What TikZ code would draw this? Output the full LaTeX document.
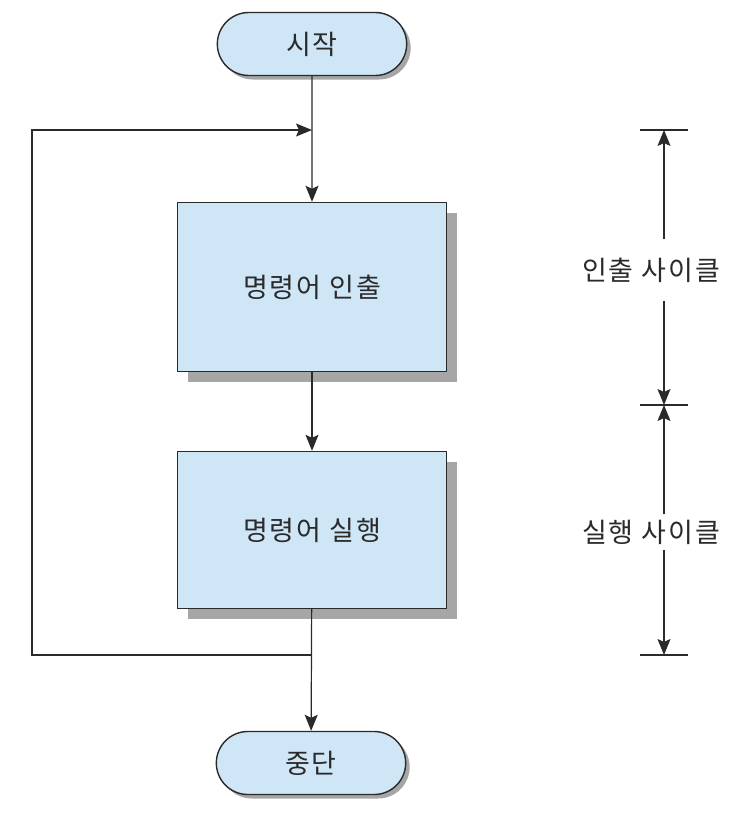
\documentclass[tikz,border=0pt]{standalone}
\usepackage{fontspec}
\setmainfont{Noto Sans CJK KR}
\usetikzlibrary{arrows.meta,shapes.misc,shadows}

\definecolor{boxblue}{HTML}{CFE6F7}
\definecolor{shadowgray}{HTML}{A6A6A6}
\definecolor{linegray}{HTML}{2A2A2A}

\newcommand{\boxfont}{\fontsize{27}{31}\selectfont\addfontfeatures{LetterSpace=7}}

\tikzset{
  terminal/.style={rounded rectangle, draw=linegray, line width=1.4pt, fill=boxblue,
    minimum width=196pt, minimum height=63pt, text=linegray, font=\boxfont,
    drop shadow={shadow xshift=4pt, shadow yshift=-4pt, fill=shadowgray, opacity=1}},
  process/.style={rectangle, draw=linegray, line width=1.4pt, fill=boxblue,
    minimum width=269pt, text=linegray, font=\boxfont,
    drop shadow={shadow xshift=10pt, shadow yshift=-10pt, fill=shadowgray, opacity=1}},
  cyclelabel/.style={text=linegray, font=\boxfont, inner xsep=0pt}
}

\begin{document}
\begin{tikzpicture}[x=1pt,y=-1pt,line width=1.2pt,draw=linegray,
    >={Stealth[length=16pt,width=13pt,inset=3pt]}]
  \useasboundingbox (0,0) rectangle (752,822);

  % flow chart
  \node[terminal] (start) at (312,44) {시작};
  \node[process, minimum height=169pt] (fetch) at (312,287) {명령어 인출};
  \node[process, minimum height=157pt] (exec) at (312,530) {명령어 실행};
  \node[terminal] (stop) at (311,763) {중단};

  \coordinate (merge) at (312,130);
  \coordinate (split) at (312,655);

  \draw[->] (start) -- (fetch);
  \draw[->] (fetch) -- (exec);
  \draw[->] (exec) -- (stop);
  \draw[->] (split) -| (32,130) -- (merge);

  % cycle dimensions
  \coordinate (t1) at (664,130);
  \coordinate (t2) at (664,405);
  \coordinate (t3) at (664,655);
  \foreach \t in {t1,t2,t3}
    \draw ([xshift=-24pt]\t) -- ([xshift=24pt]\t);

  \node[cyclelabel, inner ysep=18pt] (fetchcyc) at (651,270) {인출 사이클};
  \node[cyclelabel, inner ysep=5pt] (execcyc) at (651,532) {실행 사이클};

  \draw[->] (fetchcyc.north -| t1) -- (t1);
  \draw[->] (fetchcyc.south -| t2) -- (t2);
  \draw[->] (execcyc.north -| t2) -- (t2);
  \draw[->] (execcyc.south -| t3) -- (t3);
\end{tikzpicture}
\end{document}
